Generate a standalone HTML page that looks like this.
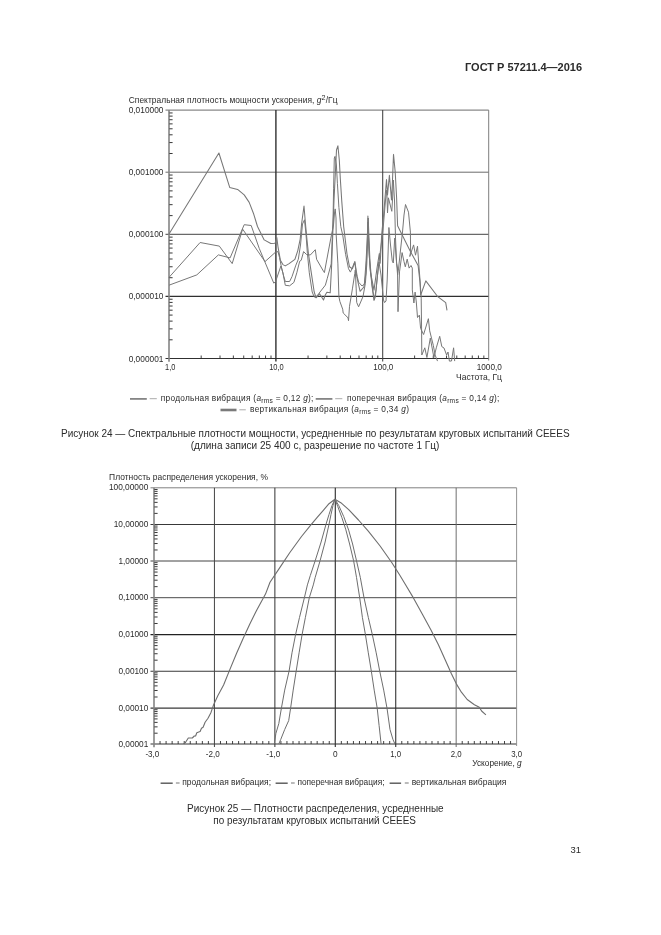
<!DOCTYPE html>
<html><head><meta charset="utf-8"><title>ГОСТ Р 57211.4—2016</title>
<style>
html,body{margin:0;padding:0;background:#fff;}
body{width:661px;height:935px;overflow:hidden;font-family:"Liberation Sans",sans-serif;}
svg{display:block;filter:grayscale(1);}
text{font-family:"Liberation Sans",sans-serif;fill:#2b2b2b;}
</style></head><body>
<svg width="661" height="935" viewBox="0 0 661 935">
<rect width="661" height="935" fill="#fff"/>
<text x="465" y="71" font-size="11" textLength="117" lengthAdjust="spacingAndGlyphs" font-weight="bold" fill="#202020">ГОСТ Р 57211.4—2016</text>
<text x="128.7" y="102.7" font-size="8.4" letter-spacing="0.062">Спектральная плотность мощности ускорения, <tspan font-style="italic">g</tspan><tspan font-size="7.2" dy="-3">2</tspan><tspan dy="3">/Гц</tspan></text>
<line x1="165.50" y1="110.10" x2="488.70" y2="110.10" stroke="#6c6c6c" stroke-width="1.0"/>
<line x1="165.50" y1="172.20" x2="488.70" y2="172.20" stroke="#6c6c6c" stroke-width="1.0"/>
<line x1="165.50" y1="234.30" x2="488.70" y2="234.30" stroke="#444" stroke-width="1.0"/>
<line x1="165.50" y1="296.40" x2="488.70" y2="296.40" stroke="#303030" stroke-width="1.35"/>
<line x1="165.50" y1="358.50" x2="488.70" y2="358.50" stroke="#303030" stroke-width="1.2"/>
<line x1="275.90" y1="110.10" x2="275.90" y2="361.50" stroke="#303030" stroke-width="1.4"/>
<line x1="382.70" y1="110.10" x2="382.70" y2="361.50" stroke="#404040" stroke-width="1.05"/>
<line x1="488.70" y1="110.10" x2="488.70" y2="360.50" stroke="#777" stroke-width="0.95"/>
<line x1="169.00" y1="110.10" x2="169.00" y2="361.70" stroke="#858585" stroke-width="1.6"/>
<line x1="169.30" y1="339.81" x2="172.60" y2="339.81" stroke="#383838" stroke-width="1.0"/>
<line x1="169.30" y1="328.87" x2="172.60" y2="328.87" stroke="#383838" stroke-width="1.0"/>
<line x1="169.30" y1="321.11" x2="172.60" y2="321.11" stroke="#383838" stroke-width="1.0"/>
<line x1="169.30" y1="315.09" x2="172.60" y2="315.09" stroke="#383838" stroke-width="1.0"/>
<line x1="169.30" y1="310.18" x2="172.60" y2="310.18" stroke="#383838" stroke-width="1.0"/>
<line x1="169.30" y1="306.02" x2="172.60" y2="306.02" stroke="#383838" stroke-width="1.0"/>
<line x1="169.30" y1="302.42" x2="172.60" y2="302.42" stroke="#383838" stroke-width="1.0"/>
<line x1="169.30" y1="299.24" x2="172.60" y2="299.24" stroke="#383838" stroke-width="1.0"/>
<line x1="169.30" y1="277.71" x2="172.60" y2="277.71" stroke="#383838" stroke-width="1.0"/>
<line x1="169.30" y1="266.77" x2="172.60" y2="266.77" stroke="#383838" stroke-width="1.0"/>
<line x1="169.30" y1="259.01" x2="172.60" y2="259.01" stroke="#383838" stroke-width="1.0"/>
<line x1="169.30" y1="252.99" x2="172.60" y2="252.99" stroke="#383838" stroke-width="1.0"/>
<line x1="169.30" y1="248.08" x2="172.60" y2="248.08" stroke="#383838" stroke-width="1.0"/>
<line x1="169.30" y1="243.92" x2="172.60" y2="243.92" stroke="#383838" stroke-width="1.0"/>
<line x1="169.30" y1="240.32" x2="172.60" y2="240.32" stroke="#383838" stroke-width="1.0"/>
<line x1="169.30" y1="237.14" x2="172.60" y2="237.14" stroke="#383838" stroke-width="1.0"/>
<line x1="169.30" y1="215.61" x2="172.60" y2="215.61" stroke="#383838" stroke-width="1.0"/>
<line x1="169.30" y1="204.67" x2="172.60" y2="204.67" stroke="#383838" stroke-width="1.0"/>
<line x1="169.30" y1="196.91" x2="172.60" y2="196.91" stroke="#383838" stroke-width="1.0"/>
<line x1="169.30" y1="190.89" x2="172.60" y2="190.89" stroke="#383838" stroke-width="1.0"/>
<line x1="169.30" y1="185.98" x2="172.60" y2="185.98" stroke="#383838" stroke-width="1.0"/>
<line x1="169.30" y1="181.82" x2="172.60" y2="181.82" stroke="#383838" stroke-width="1.0"/>
<line x1="169.30" y1="178.22" x2="172.60" y2="178.22" stroke="#383838" stroke-width="1.0"/>
<line x1="169.30" y1="175.04" x2="172.60" y2="175.04" stroke="#383838" stroke-width="1.0"/>
<line x1="169.30" y1="153.51" x2="172.60" y2="153.51" stroke="#383838" stroke-width="1.0"/>
<line x1="169.30" y1="142.57" x2="172.60" y2="142.57" stroke="#383838" stroke-width="1.0"/>
<line x1="169.30" y1="134.81" x2="172.60" y2="134.81" stroke="#383838" stroke-width="1.0"/>
<line x1="169.30" y1="128.79" x2="172.60" y2="128.79" stroke="#383838" stroke-width="1.0"/>
<line x1="169.30" y1="123.88" x2="172.60" y2="123.88" stroke="#383838" stroke-width="1.0"/>
<line x1="169.30" y1="119.72" x2="172.60" y2="119.72" stroke="#383838" stroke-width="1.0"/>
<line x1="169.30" y1="116.12" x2="172.60" y2="116.12" stroke="#383838" stroke-width="1.0"/>
<line x1="169.30" y1="112.94" x2="172.60" y2="112.94" stroke="#383838" stroke-width="1.0"/>
<line x1="201.18" y1="358.50" x2="201.18" y2="355.50" stroke="#2e2e2e" stroke-width="0.9"/>
<line x1="220.00" y1="358.50" x2="220.00" y2="355.50" stroke="#2e2e2e" stroke-width="0.9"/>
<line x1="233.36" y1="358.50" x2="233.36" y2="355.50" stroke="#2e2e2e" stroke-width="0.9"/>
<line x1="243.72" y1="358.50" x2="243.72" y2="355.50" stroke="#2e2e2e" stroke-width="0.9"/>
<line x1="252.18" y1="358.50" x2="252.18" y2="355.50" stroke="#2e2e2e" stroke-width="0.9"/>
<line x1="259.34" y1="358.50" x2="259.34" y2="355.50" stroke="#2e2e2e" stroke-width="0.9"/>
<line x1="265.54" y1="358.50" x2="265.54" y2="355.50" stroke="#2e2e2e" stroke-width="0.9"/>
<line x1="271.01" y1="358.50" x2="271.01" y2="355.50" stroke="#2e2e2e" stroke-width="0.9"/>
<line x1="308.05" y1="358.50" x2="308.05" y2="355.50" stroke="#2e2e2e" stroke-width="0.9"/>
<line x1="326.86" y1="358.50" x2="326.86" y2="355.50" stroke="#2e2e2e" stroke-width="0.9"/>
<line x1="340.20" y1="358.50" x2="340.20" y2="355.50" stroke="#2e2e2e" stroke-width="0.9"/>
<line x1="350.55" y1="358.50" x2="350.55" y2="355.50" stroke="#2e2e2e" stroke-width="0.9"/>
<line x1="359.01" y1="358.50" x2="359.01" y2="355.50" stroke="#2e2e2e" stroke-width="0.9"/>
<line x1="366.16" y1="358.50" x2="366.16" y2="355.50" stroke="#2e2e2e" stroke-width="0.9"/>
<line x1="372.35" y1="358.50" x2="372.35" y2="355.50" stroke="#2e2e2e" stroke-width="0.9"/>
<line x1="377.81" y1="358.50" x2="377.81" y2="355.50" stroke="#2e2e2e" stroke-width="0.9"/>
<line x1="414.61" y1="358.50" x2="414.61" y2="355.50" stroke="#2e2e2e" stroke-width="0.9"/>
<line x1="433.27" y1="358.50" x2="433.27" y2="355.50" stroke="#2e2e2e" stroke-width="0.9"/>
<line x1="446.52" y1="358.50" x2="446.52" y2="355.50" stroke="#2e2e2e" stroke-width="0.9"/>
<line x1="456.79" y1="358.50" x2="456.79" y2="355.50" stroke="#2e2e2e" stroke-width="0.9"/>
<line x1="465.18" y1="358.50" x2="465.18" y2="355.50" stroke="#2e2e2e" stroke-width="0.9"/>
<line x1="472.28" y1="358.50" x2="472.28" y2="355.50" stroke="#2e2e2e" stroke-width="0.9"/>
<line x1="478.43" y1="358.50" x2="478.43" y2="355.50" stroke="#2e2e2e" stroke-width="0.9"/>
<line x1="483.85" y1="358.50" x2="483.85" y2="355.50" stroke="#2e2e2e" stroke-width="0.9"/>
<text x="163.4" y="113.1" font-size="8.4" text-anchor="end" textLength="34.7" lengthAdjust="spacingAndGlyphs">0,010000</text>
<text x="163.4" y="175.2" font-size="8.4" text-anchor="end" textLength="34.7" lengthAdjust="spacingAndGlyphs">0,001000</text>
<text x="163.4" y="237.3" font-size="8.4" text-anchor="end" textLength="34.7" lengthAdjust="spacingAndGlyphs">0,000100</text>
<text x="163.4" y="299.4" font-size="8.4" text-anchor="end" textLength="34.7" lengthAdjust="spacingAndGlyphs">0,000010</text>
<text x="163.4" y="361.5" font-size="8.4" text-anchor="end" textLength="34.7" lengthAdjust="spacingAndGlyphs">0,000001</text>
<text x="170.2" y="370.4" font-size="8.4" text-anchor="middle" textLength="10.3" lengthAdjust="spacingAndGlyphs">1,0</text>
<text x="276.5" y="370.4" font-size="8.4" text-anchor="middle" textLength="14.6" lengthAdjust="spacingAndGlyphs">10,0</text>
<text x="383.3" y="370.4" font-size="8.4" text-anchor="middle" textLength="20.1" lengthAdjust="spacingAndGlyphs">100,0</text>
<text x="489.3" y="370.4" font-size="8.4" text-anchor="middle" textLength="25.2" lengthAdjust="spacingAndGlyphs">1000,0</text>
<text x="502" y="379.9" font-size="8.4" text-anchor="end" textLength="45.9" lengthAdjust="spacingAndGlyphs">Частота, Гц</text>
<text x="109.1" y="480.1" font-size="8.4" textLength="158.8" lengthAdjust="spacingAndGlyphs">Плотность распределения ускорения, %</text>
<line x1="150.50" y1="487.80" x2="516.60" y2="487.80" stroke="#808080" stroke-width="1.0"/>
<line x1="150.50" y1="524.40" x2="516.60" y2="524.40" stroke="#383838" stroke-width="1.05"/>
<line x1="150.50" y1="561.00" x2="516.60" y2="561.00" stroke="#444" stroke-width="1.0"/>
<line x1="150.50" y1="597.70" x2="516.60" y2="597.70" stroke="#4a4a4a" stroke-width="1.0"/>
<line x1="150.50" y1="634.60" x2="516.60" y2="634.60" stroke="#222" stroke-width="1.45"/>
<line x1="150.50" y1="671.20" x2="516.60" y2="671.20" stroke="#383838" stroke-width="1.05"/>
<line x1="150.50" y1="708.10" x2="516.60" y2="708.10" stroke="#383838" stroke-width="1.05"/>
<line x1="150.50" y1="744.00" x2="516.60" y2="744.00" stroke="#333" stroke-width="1.15"/>
<line x1="214.43" y1="487.80" x2="214.43" y2="747.00" stroke="#444" stroke-width="1.0"/>
<line x1="274.87" y1="487.80" x2="274.87" y2="747.00" stroke="#3a3a3a" stroke-width="1.05"/>
<line x1="335.30" y1="487.80" x2="335.30" y2="747.00" stroke="#333" stroke-width="1.15"/>
<line x1="395.73" y1="487.80" x2="395.73" y2="747.00" stroke="#333" stroke-width="1.1"/>
<line x1="456.17" y1="487.80" x2="456.17" y2="747.00" stroke="#666" stroke-width="0.95"/>
<line x1="516.60" y1="487.80" x2="516.60" y2="746.00" stroke="#888" stroke-width="0.9"/>
<line x1="154.00" y1="487.80" x2="154.00" y2="747.20" stroke="#858585" stroke-width="1.6"/>
<line x1="154.30" y1="733.19" x2="157.60" y2="733.19" stroke="#383838" stroke-width="1.0"/>
<line x1="154.30" y1="726.87" x2="157.60" y2="726.87" stroke="#383838" stroke-width="1.0"/>
<line x1="154.30" y1="722.39" x2="157.60" y2="722.39" stroke="#383838" stroke-width="1.0"/>
<line x1="154.30" y1="718.91" x2="157.60" y2="718.91" stroke="#383838" stroke-width="1.0"/>
<line x1="154.30" y1="716.06" x2="157.60" y2="716.06" stroke="#383838" stroke-width="1.0"/>
<line x1="154.30" y1="713.66" x2="157.60" y2="713.66" stroke="#383838" stroke-width="1.0"/>
<line x1="154.30" y1="711.58" x2="157.60" y2="711.58" stroke="#383838" stroke-width="1.0"/>
<line x1="154.30" y1="709.74" x2="157.60" y2="709.74" stroke="#383838" stroke-width="1.0"/>
<line x1="154.30" y1="696.99" x2="157.60" y2="696.99" stroke="#383838" stroke-width="1.0"/>
<line x1="154.30" y1="690.49" x2="157.60" y2="690.49" stroke="#383838" stroke-width="1.0"/>
<line x1="154.30" y1="685.88" x2="157.60" y2="685.88" stroke="#383838" stroke-width="1.0"/>
<line x1="154.30" y1="682.31" x2="157.60" y2="682.31" stroke="#383838" stroke-width="1.0"/>
<line x1="154.30" y1="679.39" x2="157.60" y2="679.39" stroke="#383838" stroke-width="1.0"/>
<line x1="154.30" y1="676.92" x2="157.60" y2="676.92" stroke="#383838" stroke-width="1.0"/>
<line x1="154.30" y1="674.78" x2="157.60" y2="674.78" stroke="#383838" stroke-width="1.0"/>
<line x1="154.30" y1="672.89" x2="157.60" y2="672.89" stroke="#383838" stroke-width="1.0"/>
<line x1="154.30" y1="660.18" x2="157.60" y2="660.18" stroke="#383838" stroke-width="1.0"/>
<line x1="154.30" y1="653.74" x2="157.60" y2="653.74" stroke="#383838" stroke-width="1.0"/>
<line x1="154.30" y1="649.16" x2="157.60" y2="649.16" stroke="#383838" stroke-width="1.0"/>
<line x1="154.30" y1="645.62" x2="157.60" y2="645.62" stroke="#383838" stroke-width="1.0"/>
<line x1="154.30" y1="642.72" x2="157.60" y2="642.72" stroke="#383838" stroke-width="1.0"/>
<line x1="154.30" y1="640.27" x2="157.60" y2="640.27" stroke="#383838" stroke-width="1.0"/>
<line x1="154.30" y1="638.15" x2="157.60" y2="638.15" stroke="#383838" stroke-width="1.0"/>
<line x1="154.30" y1="636.27" x2="157.60" y2="636.27" stroke="#383838" stroke-width="1.0"/>
<line x1="154.30" y1="623.49" x2="157.60" y2="623.49" stroke="#383838" stroke-width="1.0"/>
<line x1="154.30" y1="616.99" x2="157.60" y2="616.99" stroke="#383838" stroke-width="1.0"/>
<line x1="154.30" y1="612.38" x2="157.60" y2="612.38" stroke="#383838" stroke-width="1.0"/>
<line x1="154.30" y1="608.81" x2="157.60" y2="608.81" stroke="#383838" stroke-width="1.0"/>
<line x1="154.30" y1="605.89" x2="157.60" y2="605.89" stroke="#383838" stroke-width="1.0"/>
<line x1="154.30" y1="603.42" x2="157.60" y2="603.42" stroke="#383838" stroke-width="1.0"/>
<line x1="154.30" y1="601.28" x2="157.60" y2="601.28" stroke="#383838" stroke-width="1.0"/>
<line x1="154.30" y1="599.39" x2="157.60" y2="599.39" stroke="#383838" stroke-width="1.0"/>
<line x1="154.30" y1="586.65" x2="157.60" y2="586.65" stroke="#383838" stroke-width="1.0"/>
<line x1="154.30" y1="580.19" x2="157.60" y2="580.19" stroke="#383838" stroke-width="1.0"/>
<line x1="154.30" y1="575.60" x2="157.60" y2="575.60" stroke="#383838" stroke-width="1.0"/>
<line x1="154.30" y1="572.05" x2="157.60" y2="572.05" stroke="#383838" stroke-width="1.0"/>
<line x1="154.30" y1="569.14" x2="157.60" y2="569.14" stroke="#383838" stroke-width="1.0"/>
<line x1="154.30" y1="566.68" x2="157.60" y2="566.68" stroke="#383838" stroke-width="1.0"/>
<line x1="154.30" y1="564.56" x2="157.60" y2="564.56" stroke="#383838" stroke-width="1.0"/>
<line x1="154.30" y1="562.68" x2="157.60" y2="562.68" stroke="#383838" stroke-width="1.0"/>
<line x1="154.30" y1="549.98" x2="157.60" y2="549.98" stroke="#383838" stroke-width="1.0"/>
<line x1="154.30" y1="543.54" x2="157.60" y2="543.54" stroke="#383838" stroke-width="1.0"/>
<line x1="154.30" y1="538.96" x2="157.60" y2="538.96" stroke="#383838" stroke-width="1.0"/>
<line x1="154.30" y1="535.42" x2="157.60" y2="535.42" stroke="#383838" stroke-width="1.0"/>
<line x1="154.30" y1="532.52" x2="157.60" y2="532.52" stroke="#383838" stroke-width="1.0"/>
<line x1="154.30" y1="530.07" x2="157.60" y2="530.07" stroke="#383838" stroke-width="1.0"/>
<line x1="154.30" y1="527.95" x2="157.60" y2="527.95" stroke="#383838" stroke-width="1.0"/>
<line x1="154.30" y1="526.07" x2="157.60" y2="526.07" stroke="#383838" stroke-width="1.0"/>
<line x1="154.30" y1="513.38" x2="157.60" y2="513.38" stroke="#383838" stroke-width="1.0"/>
<line x1="154.30" y1="506.94" x2="157.60" y2="506.94" stroke="#383838" stroke-width="1.0"/>
<line x1="154.30" y1="502.36" x2="157.60" y2="502.36" stroke="#383838" stroke-width="1.0"/>
<line x1="154.30" y1="498.82" x2="157.60" y2="498.82" stroke="#383838" stroke-width="1.0"/>
<line x1="154.30" y1="495.92" x2="157.60" y2="495.92" stroke="#383838" stroke-width="1.0"/>
<line x1="154.30" y1="493.47" x2="157.60" y2="493.47" stroke="#383838" stroke-width="1.0"/>
<line x1="154.30" y1="491.35" x2="157.60" y2="491.35" stroke="#383838" stroke-width="1.0"/>
<line x1="154.30" y1="489.47" x2="157.60" y2="489.47" stroke="#383838" stroke-width="1.0"/>
<line x1="160.04" y1="744.00" x2="160.04" y2="741.00" stroke="#2e2e2e" stroke-width="0.9"/>
<line x1="166.09" y1="744.00" x2="166.09" y2="741.00" stroke="#2e2e2e" stroke-width="0.9"/>
<line x1="172.13" y1="744.00" x2="172.13" y2="741.00" stroke="#2e2e2e" stroke-width="0.9"/>
<line x1="178.17" y1="744.00" x2="178.17" y2="741.00" stroke="#2e2e2e" stroke-width="0.9"/>
<line x1="184.22" y1="744.00" x2="184.22" y2="741.00" stroke="#2e2e2e" stroke-width="0.9"/>
<line x1="190.26" y1="744.00" x2="190.26" y2="741.00" stroke="#2e2e2e" stroke-width="0.9"/>
<line x1="196.30" y1="744.00" x2="196.30" y2="741.00" stroke="#2e2e2e" stroke-width="0.9"/>
<line x1="202.35" y1="744.00" x2="202.35" y2="741.00" stroke="#2e2e2e" stroke-width="0.9"/>
<line x1="208.39" y1="744.00" x2="208.39" y2="741.00" stroke="#2e2e2e" stroke-width="0.9"/>
<line x1="220.48" y1="744.00" x2="220.48" y2="741.00" stroke="#2e2e2e" stroke-width="0.9"/>
<line x1="226.52" y1="744.00" x2="226.52" y2="741.00" stroke="#2e2e2e" stroke-width="0.9"/>
<line x1="232.56" y1="744.00" x2="232.56" y2="741.00" stroke="#2e2e2e" stroke-width="0.9"/>
<line x1="238.61" y1="744.00" x2="238.61" y2="741.00" stroke="#2e2e2e" stroke-width="0.9"/>
<line x1="244.65" y1="744.00" x2="244.65" y2="741.00" stroke="#2e2e2e" stroke-width="0.9"/>
<line x1="250.69" y1="744.00" x2="250.69" y2="741.00" stroke="#2e2e2e" stroke-width="0.9"/>
<line x1="256.74" y1="744.00" x2="256.74" y2="741.00" stroke="#2e2e2e" stroke-width="0.9"/>
<line x1="262.78" y1="744.00" x2="262.78" y2="741.00" stroke="#2e2e2e" stroke-width="0.9"/>
<line x1="268.82" y1="744.00" x2="268.82" y2="741.00" stroke="#2e2e2e" stroke-width="0.9"/>
<line x1="280.91" y1="744.00" x2="280.91" y2="741.00" stroke="#2e2e2e" stroke-width="0.9"/>
<line x1="286.95" y1="744.00" x2="286.95" y2="741.00" stroke="#2e2e2e" stroke-width="0.9"/>
<line x1="293.00" y1="744.00" x2="293.00" y2="741.00" stroke="#2e2e2e" stroke-width="0.9"/>
<line x1="299.04" y1="744.00" x2="299.04" y2="741.00" stroke="#2e2e2e" stroke-width="0.9"/>
<line x1="305.08" y1="744.00" x2="305.08" y2="741.00" stroke="#2e2e2e" stroke-width="0.9"/>
<line x1="311.13" y1="744.00" x2="311.13" y2="741.00" stroke="#2e2e2e" stroke-width="0.9"/>
<line x1="317.17" y1="744.00" x2="317.17" y2="741.00" stroke="#2e2e2e" stroke-width="0.9"/>
<line x1="323.21" y1="744.00" x2="323.21" y2="741.00" stroke="#2e2e2e" stroke-width="0.9"/>
<line x1="329.26" y1="744.00" x2="329.26" y2="741.00" stroke="#2e2e2e" stroke-width="0.9"/>
<line x1="341.34" y1="744.00" x2="341.34" y2="741.00" stroke="#2e2e2e" stroke-width="0.9"/>
<line x1="347.39" y1="744.00" x2="347.39" y2="741.00" stroke="#2e2e2e" stroke-width="0.9"/>
<line x1="353.43" y1="744.00" x2="353.43" y2="741.00" stroke="#2e2e2e" stroke-width="0.9"/>
<line x1="359.47" y1="744.00" x2="359.47" y2="741.00" stroke="#2e2e2e" stroke-width="0.9"/>
<line x1="365.52" y1="744.00" x2="365.52" y2="741.00" stroke="#2e2e2e" stroke-width="0.9"/>
<line x1="371.56" y1="744.00" x2="371.56" y2="741.00" stroke="#2e2e2e" stroke-width="0.9"/>
<line x1="377.60" y1="744.00" x2="377.60" y2="741.00" stroke="#2e2e2e" stroke-width="0.9"/>
<line x1="383.65" y1="744.00" x2="383.65" y2="741.00" stroke="#2e2e2e" stroke-width="0.9"/>
<line x1="389.69" y1="744.00" x2="389.69" y2="741.00" stroke="#2e2e2e" stroke-width="0.9"/>
<line x1="401.78" y1="744.00" x2="401.78" y2="741.00" stroke="#2e2e2e" stroke-width="0.9"/>
<line x1="407.82" y1="744.00" x2="407.82" y2="741.00" stroke="#2e2e2e" stroke-width="0.9"/>
<line x1="413.86" y1="744.00" x2="413.86" y2="741.00" stroke="#2e2e2e" stroke-width="0.9"/>
<line x1="419.91" y1="744.00" x2="419.91" y2="741.00" stroke="#2e2e2e" stroke-width="0.9"/>
<line x1="425.95" y1="744.00" x2="425.95" y2="741.00" stroke="#2e2e2e" stroke-width="0.9"/>
<line x1="431.99" y1="744.00" x2="431.99" y2="741.00" stroke="#2e2e2e" stroke-width="0.9"/>
<line x1="438.04" y1="744.00" x2="438.04" y2="741.00" stroke="#2e2e2e" stroke-width="0.9"/>
<line x1="444.08" y1="744.00" x2="444.08" y2="741.00" stroke="#2e2e2e" stroke-width="0.9"/>
<line x1="450.12" y1="744.00" x2="450.12" y2="741.00" stroke="#2e2e2e" stroke-width="0.9"/>
<line x1="462.21" y1="744.00" x2="462.21" y2="741.00" stroke="#2e2e2e" stroke-width="0.9"/>
<line x1="468.25" y1="744.00" x2="468.25" y2="741.00" stroke="#2e2e2e" stroke-width="0.9"/>
<line x1="474.30" y1="744.00" x2="474.30" y2="741.00" stroke="#2e2e2e" stroke-width="0.9"/>
<line x1="480.34" y1="744.00" x2="480.34" y2="741.00" stroke="#2e2e2e" stroke-width="0.9"/>
<line x1="486.38" y1="744.00" x2="486.38" y2="741.00" stroke="#2e2e2e" stroke-width="0.9"/>
<line x1="492.43" y1="744.00" x2="492.43" y2="741.00" stroke="#2e2e2e" stroke-width="0.9"/>
<line x1="498.47" y1="744.00" x2="498.47" y2="741.00" stroke="#2e2e2e" stroke-width="0.9"/>
<line x1="504.51" y1="744.00" x2="504.51" y2="741.00" stroke="#2e2e2e" stroke-width="0.9"/>
<line x1="510.56" y1="744.00" x2="510.56" y2="741.00" stroke="#2e2e2e" stroke-width="0.9"/>
<text x="148.3" y="490.3" font-size="8.3" text-anchor="end" textLength="39.4" lengthAdjust="spacingAndGlyphs">100,00000</text>
<text x="148.3" y="526.9" font-size="8.3" text-anchor="end" textLength="34.6" lengthAdjust="spacingAndGlyphs">10,00000</text>
<text x="148.3" y="563.5" font-size="8.3" text-anchor="end" textLength="29.9" lengthAdjust="spacingAndGlyphs">1,00000</text>
<text x="148.3" y="600.2" font-size="8.3" text-anchor="end" textLength="29.9" lengthAdjust="spacingAndGlyphs">0,10000</text>
<text x="148.3" y="637.1" font-size="8.3" text-anchor="end" textLength="29.9" lengthAdjust="spacingAndGlyphs">0,01000</text>
<text x="148.3" y="673.7" font-size="8.3" text-anchor="end" textLength="29.9" lengthAdjust="spacingAndGlyphs">0,00100</text>
<text x="148.3" y="710.6" font-size="8.3" text-anchor="end" textLength="29.9" lengthAdjust="spacingAndGlyphs">0,00010</text>
<text x="148.3" y="746.5" font-size="8.3" text-anchor="end" textLength="29.9" lengthAdjust="spacingAndGlyphs">0,00001</text>
<text x="152.4" y="756.7" font-size="8.3" text-anchor="middle" textLength="13.9" lengthAdjust="spacingAndGlyphs">-3,0</text>
<text x="212.8" y="756.7" font-size="8.3" text-anchor="middle" textLength="13.9" lengthAdjust="spacingAndGlyphs">-2,0</text>
<text x="273.3" y="756.7" font-size="8.3" text-anchor="middle" textLength="13.9" lengthAdjust="spacingAndGlyphs">-1,0</text>
<text x="335.2" y="756.7" font-size="8.3" text-anchor="middle" textLength="4.6" lengthAdjust="spacingAndGlyphs">0</text>
<text x="395.7" y="756.7" font-size="8.3" text-anchor="middle" textLength="10.9" lengthAdjust="spacingAndGlyphs">1,0</text>
<text x="456.2" y="756.7" font-size="8.3" text-anchor="middle" textLength="10.9" lengthAdjust="spacingAndGlyphs">2,0</text>
<text x="516.6" y="756.7" font-size="8.3" text-anchor="middle" textLength="10.9" lengthAdjust="spacingAndGlyphs">3,0</text>
<text x="472.2" y="766.1" font-size="8.3">Ускорение, <tspan font-style="italic">g</tspan></text>
<text x="61.0" y="437" font-size="10" textLength="508.6" lengthAdjust="spacingAndGlyphs">Рисунок 24 — Спектральные плотности мощности, усредненные по результатам круговых испытаний CEEES</text>
<text x="190.7" y="448.8" font-size="10" textLength="248.6" lengthAdjust="spacingAndGlyphs">(длина записи 25 400 с, разрешение по частоте 1 Гц)</text>
<text x="187.0" y="811.7" font-size="10" textLength="256.6" lengthAdjust="spacingAndGlyphs">Рисунок 25 — Плотности распределения, усредненные</text>
<text x="213.3" y="823.7" font-size="10" textLength="202.6" lengthAdjust="spacingAndGlyphs">по результатам круговых испытаний CEEES</text>
<text x="570.6" y="852.6" font-size="9.2" textLength="10.5" lengthAdjust="spacingAndGlyphs">31</text>
<line x1="130.00" y1="398.90" x2="146.80" y2="398.90" stroke="#858585" stroke-width="1.8"/>
<line x1="149.70" y1="398.70" x2="156.80" y2="398.70" stroke="#a0a0a0" stroke-width="0.9"/>
<text x="160.8" y="400.7" font-size="8.3" letter-spacing="0.268" fill="#555">продольная вибрация (<tspan font-style="italic">a</tspan><tspan font-size="6.6" dy="2.3">rms</tspan><tspan dy="-2.3"> = 0,12 </tspan><tspan font-style="italic">g</tspan>);</text>
<line x1="315.70" y1="398.90" x2="332.40" y2="398.90" stroke="#858585" stroke-width="1.8"/>
<line x1="335.20" y1="398.70" x2="342.30" y2="398.70" stroke="#a0a0a0" stroke-width="0.9"/>
<text x="346.9" y="400.7" font-size="8.3" letter-spacing="0.28" fill="#555">поперечная вибрация (<tspan font-style="italic">a</tspan><tspan font-size="6.6" dy="2.3">rms</tspan><tspan dy="-2.3"> = 0,14 </tspan><tspan font-style="italic">g</tspan>);</text>
<line x1="220.50" y1="410.00" x2="236.50" y2="410.00" stroke="#7a7a7a" stroke-width="2.6"/>
<line x1="239.30" y1="409.80" x2="245.80" y2="409.80" stroke="#a0a0a0" stroke-width="0.9"/>
<text x="250.1" y="411.6" font-size="8.3" letter-spacing="0.294" fill="#555">вертикальная вибрация (<tspan font-style="italic">a</tspan><tspan font-size="6.6" dy="2.3">rms</tspan><tspan dy="-2.3"> = 0,34 </tspan><tspan font-style="italic">g</tspan>)</text>
<line x1="160.60" y1="783.20" x2="172.70" y2="783.20" stroke="#555" stroke-width="1.4"/>
<line x1="175.90" y1="783.00" x2="179.60" y2="783.00" stroke="#666" stroke-width="0.9"/>
<text x="182.3" y="785.1" font-size="8.3" textLength="88.7" lengthAdjust="spacingAndGlyphs">продольная вибрация;</text>
<line x1="275.60" y1="783.20" x2="287.70" y2="783.20" stroke="#555" stroke-width="1.4"/>
<line x1="291.00" y1="783.00" x2="294.70" y2="783.00" stroke="#666" stroke-width="0.9"/>
<text x="297.4" y="785.1" font-size="8.3" textLength="87.1" lengthAdjust="spacingAndGlyphs">поперечная вибрация;</text>
<line x1="389.60" y1="783.20" x2="401.10" y2="783.20" stroke="#555" stroke-width="1.4"/>
<line x1="404.80" y1="783.00" x2="408.70" y2="783.00" stroke="#666" stroke-width="0.9"/>
<text x="411.7" y="785.1" font-size="8.3" textLength="94.7" lengthAdjust="spacingAndGlyphs">вертикальная вибрация</text>
<polyline points="169,234 218.9,153 229.7,187.4 237.6,189.4 244.2,194.9 249.2,202.4 253.4,213.2 257.5,226.5 264.2,239.9 270.8,243.5 275,243.3 276.8,237.6 278,246.8 280.4,260.3 282.9,264.6 285.3,265.9 289.1,263.6 294.9,259.3 297.8,250.6 300.2,239.1 301.6,223.7 304,206 305.3,222 306.8,238 308.4,253.5 311.3,272.8 314.2,292 316.1,297.8 319.6,293.7 323.5,300 325.4,294.7 326.9,292.3 330.2,292.8 331.7,263.9 334,200 336.5,150 337.9,145.8 339.3,160 340.3,178.5 341.8,201.6 343.7,226.7 344.7,235 347,254 349.5,266.8 352.4,268.7 354.8,262 356.2,273.5 358.2,283.2 360.1,291.3 363.9,287 365.9,273.5 367.2,245 367.9,216 368.6,240 369.1,253.5 370.6,272.8 374,290.1 376.9,268.9 379.3,253.5 380.2,263.2 381.7,234.3 383.6,215 386.5,179.5 387.5,195 389.4,175.2 391.5,200 392.3,185 393.5,154.4 395.2,171.8 396.6,197.8 397.6,225.7 402.7,236 410.4,251.4 418.1,265.5 420,282.2 420.7,295 425.8,280.9 437.4,296.3 445.7,302.7 447,310.4" fill="none" stroke="#777" stroke-width="1.05" stroke-linejoin="round"/>
<polyline points="169,277.4 200.1,242.5 219.3,246.1 232.2,263.6 242.6,229.1 265,261.6 275.6,252.1 278,251.6 279.5,257.4 281.4,267 283.8,276.6 285.3,281.5 289.6,281.5 292,276.6 295.9,265.1 298.3,259.3 300.5,245 302.5,224 304.5,219.8 306,234.3 307.4,253.5 309.3,272.8 312.2,292 314.2,296.9 315.8,297.6 318.7,293.7 325.4,285.1 327.3,278.3 331.2,263.9 333.1,217 333.6,188.2 334.3,158 335,156.4 336.4,165 337.4,183.3 338.9,207.4 340.8,226.7 342.7,235 345.6,254.3 348.5,268.7 350.4,272.1 352.4,267.7 354.8,261.5 357.2,276.4 358.6,282.2 362,286 364.4,284.1 366,262 367.4,236 368.2,218 369,238 370,262 372,285 374.4,299.8 376,290 378,270 380.5,250 383,230 385.5,200 386.8,190 387.5,213 388.4,197.8 391.8,211.3 392.8,195 393.3,180 394.5,200 395.5,238 396.6,263.2 397.6,275 398.5,268.9 400.5,250 402.5,232 404,215 405.5,204.5 408.5,212.2 410.4,232.1 410.6,251.6 409.8,256.5 413.6,244.9 415.5,255.2 417.5,246.2 418.8,264.2 420,280 421.2,298.2 421.6,330 421.8,355 424.8,347.8 426.9,357.5 430.3,338.1 433.9,357.5 436.3,347.8 439.7,336.3 441.8,346.6 444,348 446.6,355 448,352 449.4,361.1 451.5,361 453.6,347.8 454.7,361.1" fill="none" stroke="#777" stroke-width="1.0" stroke-linejoin="round"/>
<polyline points="169,285.2 196.8,274.9 218.4,254.9 230.1,257.9 244.2,224.7 251.2,225.5 259.2,248.3 273.8,283.2 275.6,281.5 280.9,266 282.9,272.8 285.3,285.3 289.6,285.8 293.9,282.4 296.8,272.8 299.7,261.2 301.2,260.3 303.6,251.6 306.5,254.5 310.3,255 315.3,249.7 316.6,259.3 323.8,271.8 324.4,272.6 326.9,259.1 330.7,238.9 333.5,225 334.5,213 335.2,208.9 336,218 336.2,235 337.9,263.9 338.9,296.6 339.9,301.5 342.7,309.2 343.2,313 348,317.8 348.5,320.7 349.5,306.3 352.4,288.9 354.8,273.5 355.3,270 356.2,288.9 356.7,302.4 358.6,306.8 363,296.6 365.4,283.2 366.8,263.9 367.6,240 368,222 368.8,245 370,268 372.5,290 374,300.5 375.5,296 377,280 379,262 381,275 383.5,300 384.6,302.6 386,301 387.2,280 388.9,227.5 390.5,245 392.3,261.2 393.3,263 394.7,238.1 396.6,263.2 397.5,268 398,311.7 399.5,271.9 402.1,252.6 404,261.6 405.3,266.8 407.2,259.1 409.1,268.1 411,265.5 412.3,268.1 412.3,289.9 413.9,303 415.1,292.1 416.3,302 417.5,317.5 419.4,315.1 420.6,328.4 423.6,334.5 428.4,318.7 429.7,330.8 431.5,338.1 433.3,345.3 435.1,355 437.5,361.1" fill="none" stroke="#777" stroke-width="1.0" stroke-linejoin="round"/>
<polyline points="183.8,743.9 185.4,742.5 188.3,738 192.3,738 194.3,736 195.6,736 196.8,732.7 200.1,731.5 201.5,728.2 203.1,727.2 205.1,722.3 208,718.3 211,712.4 213.3,705.6 217.8,695.7 223.6,685 229.4,670.6 236.6,653.3 243,638.8 249.6,624.4 256.8,609.9 265.5,594.1 270,582.3 279.8,567.6 289.7,552.8 301.5,536.5 311.3,524.3 317.2,517.4 323.1,510.6 329,503.7 334.9,499.2 340.8,502.7 348.7,509.6 358.5,520 368.3,531.2 380.1,546 391.9,562.7 400,575.5 405.1,584 413.7,598.4 422.4,614.3 431.1,630.2 438.3,644.6 445.5,660.5 451.3,673.5 456.2,683.6 461.4,692.2 467.2,699.5 474.4,704.7 479.3,707.3 481.6,711 485.9,714.8" fill="none" stroke="#6e6e6e" stroke-width="1.1" stroke-linejoin="round"/>
<polyline points="274.3,743.9 275.9,733.4 278.8,723.6 281.4,708.2 284.7,690.1 289.1,671 292,652.8 295.6,634.5 299.5,617.4 304.4,597.7 307.4,584.9 310.3,575.5 315.2,560.7 321.1,542 326,524.3 329,514.5 332,505.5 334.9,499.2 338.8,505.6 343.7,516.5 348.7,530.2 352.6,544 356.5,560.7 360.3,577.4 364,597.7 368.3,617.4 372.3,634.5 376.2,652.8 379.7,671 383.7,690.1 387,708.2 390,729.5 392.9,739.3 394.9,743.9" fill="none" stroke="#6e6e6e" stroke-width="1.0" stroke-linejoin="round"/>
<polyline points="278.8,743.9 280.8,739.3 284.7,729.5 288.7,720.6 290.6,708.2 293.2,690.1 296.2,671 299.1,652.8 302.1,634.5 305.4,617.4 309.3,597.7 313.3,584.9 315.2,577.4 320.1,560.7 325.1,542 329,524.3 331,514.5 333,505.5 334.9,499.2 337.8,506.6 341.8,517.4 345.7,529.2 349.6,544 353.6,560.7 356.5,577.4 358,587 359.7,597.7 362.4,617.4 365.4,634.5 368.3,652.8 371.3,671 374.2,690.1 377.2,708.2 379.1,725.5 381.1,743.9" fill="none" stroke="#6e6e6e" stroke-width="1.0" stroke-linejoin="round"/>
</svg>
</body></html>
